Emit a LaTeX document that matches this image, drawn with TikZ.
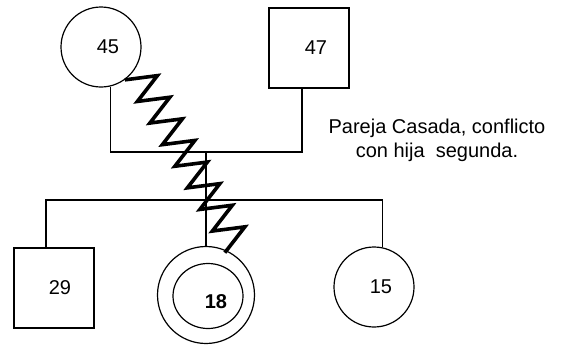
\documentclass[tikz,border=0pt]{standalone}
\usepackage{fontspec}
\setmainfont{Liberation Sans}
\begin{document}
\begin{tikzpicture}[x=1pt,y=-1pt,line width=1.2pt,
	female/.style={draw,circle,minimum size=80pt,inner sep=0pt},
	male/.style={draw,rectangle,minimum size=80pt,inner sep=0pt},
	age/.style={font=\fontsize{20}{24}\selectfont,inner sep=0pt},
	zig/.style={line width=3.6pt,line join=miter}]
	\useasboundingbox (0,0) rectangle (563,346);
	\node[female] (m45) at (101,47) {};
	\node[male] (m47) at (309,48) {};
	\node[male] (s29) at (54,288) {};
	\node[female,minimum size=97pt] (m18) at (206,295) {};
	\draw (208,296) ellipse (35 and 32.5);
	\node[female] (m15) at (374,287) {};
	\node[age] (t45) at ([xshift=7pt]m45) {45};
	\node[age] (t47) at ([xshift=7pt]m47) {47};
	\node[age] (t29) at ([xshift=6pt]s29) {29};
	\node[age] (t15) at ([xshift=7pt]m15) {15};
	\node[age,font=\fontsize{20}{24}\selectfont\bfseries] (t18) at (216,302) {18};
	\coordinate (cpl) at (206,152);
	\coordinate (sib) at (206,200);
	\draw (m45.-77) |- (cpl) -| ([xshift=-7pt]m47.south);
	\draw (cpl) -- (m18.north);
	\draw ([xshift=-8pt]s29.north) |- (sib) -| (m15.78);
	\draw[zig] (m45.-54) \foreach \i in {1,...,8} { -- ++(32.5,-4.2) -- ++(-20,25.8) };
	\node[age,align=center,anchor=base] (note) at (437,157)
		{Pareja Casada, conflicto\\con hija\ \ segunda.};
\end{tikzpicture}
\end{document}
